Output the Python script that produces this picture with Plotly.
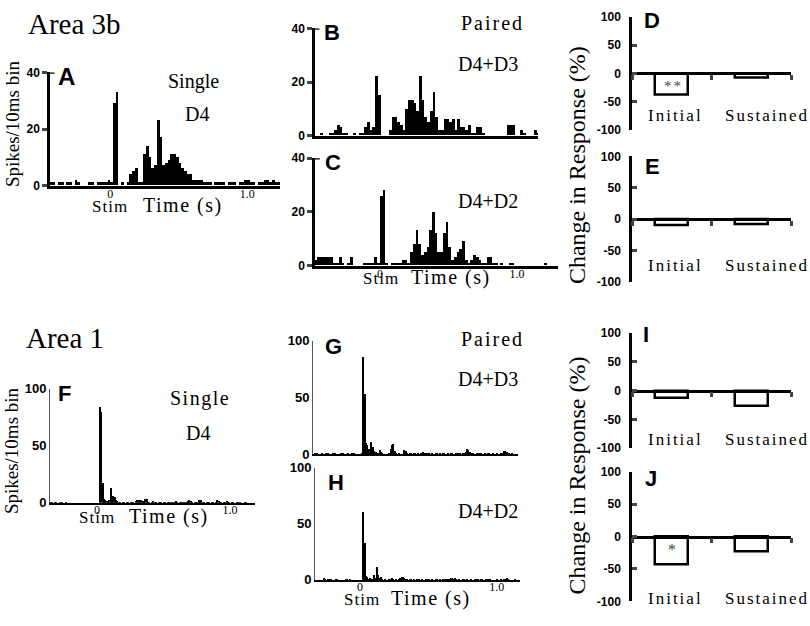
import plotly.graph_objects as go

W, H = 810, 626
SERIF = "Liberation Serif"
SANS = "Liberation Sans"

# ---------------- PSTH data (spikes per bin) ----------------
# Area 3b panels, 20 ms bins
bin_3b = 0.02
a_start = -0.44
a_counts = [1, 1, 0, 1, 1, 0, 1, 1, 0, 2, 1, 0, 0, 0, 1, 1, 0, 1, 1, 1, 1, 2,
            1, 29, 33, 0, 1, 0, 1, 4, 5, 6, 1, 1,
            11, 14, 10, 6, 7, 23, 17, 7, 8, 9, 11, 11, 10, 8, 6, 5, 4, 4, 2, 2,
            2, 2, 1, 1, 1, 0, 1, 1, 1, 1, 0, 1, 1, 1, 0, 1, 1, 2, 2, 1, 1, 0, 1, 1, 2, 2, 1, 2, 1, 1]
b_start = -0.43
b_counts = [0, 0, 1, 0, 0, 1, 1, 2, 4, 3,
            1, 1, 0, 0, 1, 0, 1, 1, 3, 5,
            2, 3, 22, 15, 0, 0, 0, 2, 7, 7,
            5, 4, 2, 10, 13, 13, 12, 9, 22, 13,
            7, 5, 9, 16, 7, 2, 2, 6, 6, 5,
            6, 2, 6, 3, 3, 2, 4, 1, 1, 3,
            3, 1, 0, 0, 0, 0, 0, 0, 0, 0,
            4, 4, 4, 0, 0, 2, 1, 0, 0, 0, 2, 1]
c_start = -0.48
c_counts = [2, 3, 3, 3, 3, 3, 3, 1, 1, 3,
            1, 0, 1, 3, 0, 0, 0, 0, 1, 1,
            1, 1, 3, 1, 26, 28, 1, 0, 1, 1,
            1, 1, 2, 2, 1, 5, 8, 13, 8, 4,
            5, 7, 13, 20, 12, 5, 5, 12, 16, 7,
            2, 3, 5, 6, 9, 2, 1, 2, 4, 3,
            2, 1, 1, 3, 3, 1, 1, 0, 1, 0,
            0, 1, 1, 0, 0, 0, 0, 0, 0, 0,
            0, 0, 0, 0, 1, 0, 0, 0, 0]

# Area 1 panels, 10 ms bins
bin_1 = 0.01
f_start = -0.35
f_counts = [1, 1, 0, 1, 1, 0, 0, 1, 1, 0, 0, 1, 0, 0, 0,
            0, 0, 0, 0, 0, 0, 0, 0, 0, 0, 0, 0, 0, 0, 0, 0, 0, 0, 0, 0,
            0, 0, 84, 80, 18, 4, 3, 2, 2, 3, 13, 4, 6, 5, 3, 2, 1, 1, 0, 1,
            1, 0, 1, 1, 0, 1, 1, 1, 0, 2, 3, 3, 2, 3, 2, 1, 4, 4, 1, 1,
            0, 1, 2, 1, 1, 0, 1, 1, 1, 0, 1, 1, 0, 1, 1, 1, 0, 1, 1, 2,
            1, 0, 1, 1, 1, 0, 1, 1, 2, 3, 2, 1, 0, 1, 1, 1, 3, 2, 3, 1,
            1, 0, 1, 1, 1, 0, 1, 1, 0, 1, 3, 2, 1, 1, 0, 1, 1, 2, 1, 1,
            0, 1, 1, 0, 0, 1, 1, 1, 0, 0, 0, 1, 1, 0, 0, 0, 0, 0, 0]
g_start = -0.34
g_counts = [0, 1, 1, 0, 0, 0, 1, 0, 0, 1, 1, 0, 0, 0, 1, 1, 0,
            0, 0, 0, 1, 1, 0, 0, 0, 1, 0, 0, 1, 1, 0, 0, 0, 0,
            0, 1, 86, 53, 10, 8, 5, 4, 11, 6, 3, 2, 1, 1, 4, 2, 1, 0, 0, 0,
            0, 1, 5, 8, 9, 3, 1, 0, 1, 0, 0, 0, 4, 3, 1, 0, 1, 1, 0, 1,
            1, 0, 1, 0, 1, 1, 2, 1, 0, 1, 1, 0, 1, 0, 0, 1, 1, 0, 1, 0,
            1, 1, 0, 0, 1, 0, 1, 1, 0, 0, 1, 1, 0, 1, 0, 1, 1, 2, 5, 4,
            2, 1, 1, 0, 0, 1, 0, 1, 1, 0, 0, 1, 0, 1, 1, 0, 0, 1, 0, 0,
            1, 0, 0, 1, 1, 3, 3, 2, 1, 1, 0, 1, 0, 0, 0]
h_start = -0.33
h_counts = [0, 0, 0, 0, 0, 0, 2, 1, 0, 1, 1, 1, 0, 0, 0, 1, 1,
            0, 0, 0, 0, 0, 1, 1, 0, 1, 0, 0, 0, 0, 0, 0, 0,
            0, 0, 61, 33, 4, 3, 1, 2, 1, 1, 5, 2, 12, 5, 2, 3, 1, 0, 1, 0,
            0, 1, 1, 2, 1, 0, 1, 0, 1, 2, 3, 3, 2, 1, 1, 0, 1, 1, 0, 1,
            0, 1, 1, 1, 0, 1, 0, 0, 1, 1, 1, 0, 1, 0, 0, 1, 1, 0, 1, 0,
            1, 0, 1, 1, 0, 1, 2, 2, 1, 2, 1, 0, 1, 0, 0, 1, 1, 0, 1, 0,
            0, 1, 0, 0, 1, 1, 1, 0, 1, 1, 0, 0, 1, 1, 0, 1, 0, 0, 0, 0,
            1, 0, 0, 1, 0, 1, 1, 2, 1, 0, 0, 0, 0, 1, 0, 0, 0]

# ---------------- change in response (%) ----------------
categories = ["Initial", "Sustained"]
change_d = [-37, -7]
change_e = [-10, -8]
change_i = [-13, -27]
change_j = [-44, -24]

time_ticks = [0, 1]
time_ticktext = ["0", "1.0"]
pct_ticks = [-100, -50, 0, 50, 100]
pct_ticktext = ["-100", "-50", "0", "50", "100"]


def fx(px):
    return px / W


def fy(py):
    return 1 - py / H


def note(text, px, py, size, family=SERIF, bold=False, angle=0, spacing=None, color="black"):
    if spacing:
        text = f'<span style="letter-spacing:{spacing}px">{text}</span>'
    if angle == 0:
        py -= 0.18 * size  # plotly's text box sits a little low vs the glyphs
    return dict(text=text, x=fx(px), y=fy(py), xref="paper", yref="paper",
                showarrow=False, xanchor="center", yanchor="middle", textangle=angle,
                font=dict(family=family, size=size, color=color,
                          weight="bold" if bold else "normal"))


fig = go.Figure()
layout = {}
shapes = []

# histogram panels: (axis id, counts, start, bin, x px, y px, x range, y max, ticks, thick)
psth = [
    ("", a_counts, a_start, bin_3b, (50, 280), (67, 183), (-0.44, 1.24), 40, True, True),
    ("2", b_counts, b_start, bin_3b, (315, 538), (22, 132), (-0.43, 1.20), 40, False, True),
    ("3", c_counts, c_start, bin_3b, (315, 558), (155, 265), (-0.474, 1.30), 40, True, True),
    ("6", f_counts, f_start, bin_1, (50, 255), (391, 508), (-0.353, 1.188), 100, True, False),
    ("7", g_counts, g_start, bin_1, (313, 518), (342, 458), (-0.344, 1.156), 100, False, False),
    ("8", h_counts, h_start, bin_1, (315, 520), (472, 587), (-0.33, 1.17), 100, True, False),
]

for ax, counts, start, w, xpx, ypx, xr, ymax, show_t, thick in psth:
    centers = [start + (i + 0.5) * w for i in range(len(counts))]
    fig.add_trace(go.Bar(x=centers, y=counts, width=w, marker=dict(color="black", line=dict(width=0)),
                         xaxis="x" + ax, yaxis="y" + ax, showlegend=False))
    yt = [0, ymax / 2, ymax]
    layout["xaxis" + ax] = dict(
        domain=[fx(xpx[0]), fx(xpx[1])], range=list(xr), anchor="y" + ax,
        showline=True, linecolor="black", linewidth=2.5 if thick else 1.5,
        showgrid=False, zeroline=False, ticks="", ticklabelstandoff=-5,
        tickvals=time_ticks if show_t else [], ticktext=time_ticktext if show_t else [],
        tickfont=dict(family=SERIF, size=12, color="black"),
    )
    layout["yaxis" + ax] = dict(
        domain=[fy(ypx[1]), fy(ypx[0])], range=[0, ymax], anchor="x" + ax,
        showline=True, linecolor="black" if thick else "#555555", linewidth=2.5 if thick else 1,
        showgrid=False, zeroline=False,
        ticks="outside" if thick else "", ticklen=5, tickwidth=2.5,
        tickvals=yt, ticktext=[str(int(v)) for v in yt],
        tickfont=dict(family=SANS, size=12 if thick else 13, color="black", weight="bold"),
    )
    if thick:
        # small inward hook at the top of the y axis
        shapes.append(dict(type="line", xref=f"x{ax} domain", yref="y" + ax,
                           x0=-0.005, x1=0.02, y0=ymax, y1=ymax,
                           line=dict(color="black", width=2.5)))

# change-in-response bar panels
bars = [
    ("4", change_d, (10, 126)),
    ("5", change_e, (153, 282)),
    ("9", change_i, (334, 452)),
    ("10", change_j, (476, 609)),
]
for ax, vals, ypx in bars:
    fig.add_trace(go.Bar(x=categories, y=vals, width=0.42,
                         marker=dict(color="white", line=dict(color="black", width=2.5)),
                         xaxis="x" + ax, yaxis="y" + ax, showlegend=False))
    mid = (ypx[0] + ypx[1]) / 2
    layout["xaxis" + ax] = dict(
        domain=[fx(632), fx(791)], type="category", categoryarray=categories,
        categoryorder="array", range=[-0.5, 1.5], anchor="free", position=fy(mid),
        showline=True, linecolor="black", linewidth=2.5, showgrid=False, zeroline=False,
        ticks="outside", tickson="boundaries", ticklen=5, tickwidth=2.5, showticklabels=False,
    )
    layout["yaxis" + ax] = dict(
        domain=[fy(ypx[1]), fy(ypx[0])], range=[-100, 100], anchor="x" + ax,
        showline=True, linecolor="black", linewidth=2.5, showgrid=False, zeroline=False,
        ticks="inside", ticklen=5, tickwidth=2.5, ticklabelstandoff=6,
        tickvals=pct_ticks, ticktext=pct_ticktext,
        tickfont=dict(family=SANS, size=12, color="black", weight="bold"),
    )

annotations = [
    note("Area 3b", 74, 23, 29),
    note("Area 1", 65, 344, 29),
    note("Spikes/10ms bin", 12, 120, 19, angle=-90),
    note("Spikes/10ms bin", 11, 455, 19, angle=-90),
    note("Change in Response (%)", 577, 162, 24, angle=-90),
    note("Change in Response (%)", 577, 480, 24, angle=-90),
    # panel letters
    note("A", 66, 76, 24, SANS, True),
    note("B", 332, 30, 22, SANS, True),
    note("C", 333, 163, 22, SANS, True),
    note("D", 652, 18, 22, SANS, True),
    note("E", 652, 167, 22, SANS, True),
    note("F", 64, 400, 22, SANS, True),
    note("G", 333, 352, 22, SANS, True),
    note("H", 336, 491, 22, SANS, True),
    note("I", 646, 340, 22, SANS, True),
    note("J", 651, 487, 22, SANS, True),
    # conditions
    note("Single", 193, 80, 20),
    note("D4", 197, 113, 20),
    note("Paired", 492, 20, 20, spacing=2),
    note("D4+D3", 488, 62, 20),
    note("D4+D2", 488, 202, 20),
    note("Single", 200, 405, 20, spacing=1.5),
    note("D4", 198, 440, 20),
    note("Paired", 492, 344, 20, spacing=2),
    note("D4+D3", 488, 385, 20),
    note("D4+D2", 488, 520, 20),
    # time axis labels
    note("Stim", 110, 207, 17, spacing=1),
    note("Time (s)", 183, 207, 20, spacing=1.5),
    note("Stim", 381, 281, 17, spacing=1),
    note("Time (s)", 451, 281, 20, spacing=1.5),
    note("Stim", 97, 526, 17, spacing=1),
    note("Time (s)", 169, 526, 20, spacing=1.5),
    note("Stim", 362, 610, 17, spacing=1),
    note("Time (s)", 431, 610, 20, spacing=1.5),
    # significance marks
    note("**", 673, 84, 15, color="#444444", spacing=2),
    note("*", 672, 559, 16, color="#444444"),
]
for py in (114, 268, 446, 609):
    annotations.append(note("Initial", 675, py, 17, spacing=2))
    annotations.append(note("Sustained", 767, py, 17, spacing=2))

fig.update_layout(
    width=W, height=H, margin=dict(l=0, r=0, t=0, b=0),
    paper_bgcolor="white", plot_bgcolor="white",
    bargap=0, barmode="overlay", showlegend=False,
    annotations=annotations, shapes=shapes, **layout,
)

fig.write_html("out.html", config={"displayModeBar": False},
               post_script="document.body.style.margin='0';")
